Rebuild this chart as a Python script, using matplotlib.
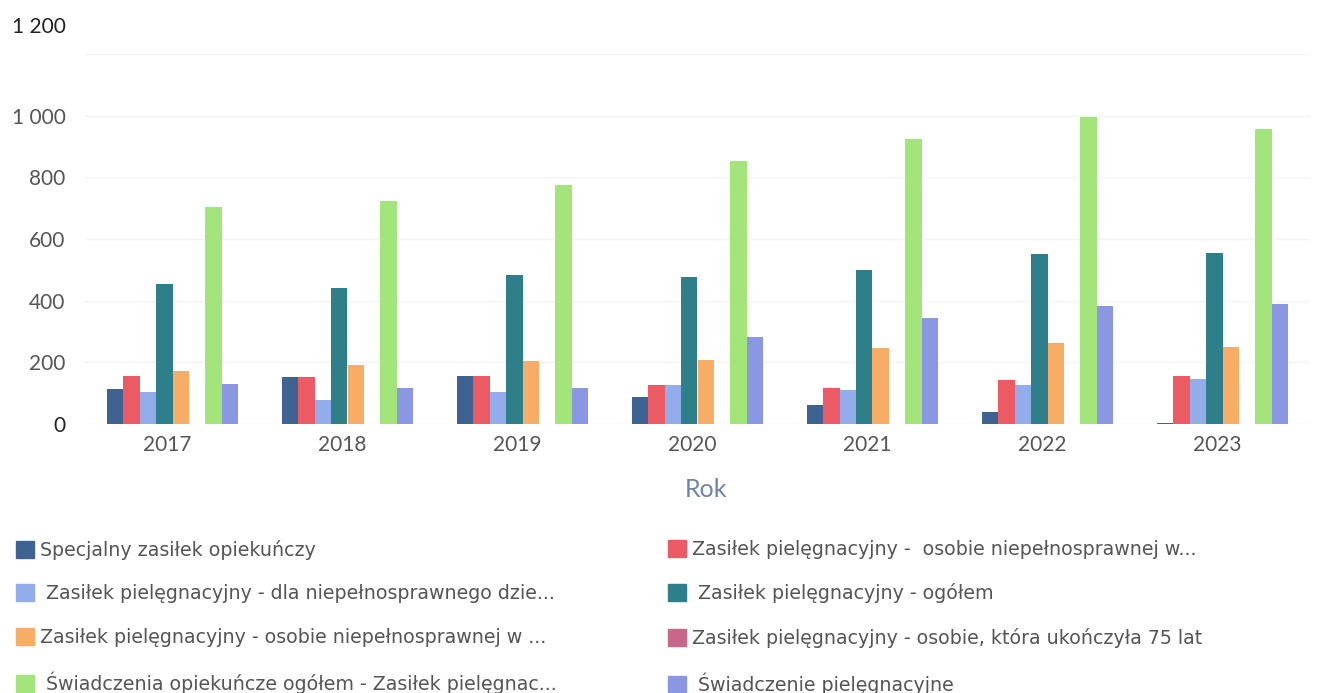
import matplotlib.pyplot as plt
import matplotlib.patches as mpatches
import matplotlib.ticker as mticker
import matplotlib.transforms as mtransforms
import numpy as np

plt.rcParams['font.family'] = ['Lato', 'DejaVu Sans']

years = ['2017', '2018', '2019', '2020', '2021', '2022', '2023']

series_names = [
    'Specjalny zasiłek opiekuńczy',
    'Zasiłek pielęgnacyjny -  osobie niepełnosprawnej w...',
    ' Zasiłek pielęgnacyjny - dla niepełnosprawnego dzie...',
    ' Zasiłek pielęgnacyjny - ogółem',
    'Zasiłek pielęgnacyjny - osobie niepełnosprawnej w ...',
    'Zasiłek pielęgnacyjny - osobie, która ukończyła 75 lat',
    ' Świadczenia opiekuńcze ogółem - Zasiłek pielęgnac...',
    ' Świadczenie pielęgnacyjne',
]

specjalny = [113, 153, 157, 88, 61, 39, 3]
osobie_niep_w = [156, 153, 157, 126, 118, 142, 156]
dla_dziecka = [105, 77, 104, 126, 111, 126, 146]
zp_ogolem = [453, 440, 482, 476, 501, 550, 553]
osobie_niep_w2 = [172, 192, 205, 207, 247, 262, 250]
osobie_75 = [0, 0, 0, 0, 0, 0, 0]
swiadczenia_ogolem = [704, 723, 775, 853, 925, 997, 958]
swiadczenie_piel = [129, 118, 118, 283, 345, 382, 388]

data = [specjalny, osobie_niep_w, dla_dziecka, zp_ogolem,
        osobie_niep_w2, osobie_75, swiadczenia_ogolem, swiadczenie_piel]

colors = ['#3f6390', '#ec5a64', '#93acea', '#2f7f8a',
          '#f7ad66', '#c7688a', '#a3e57a', '#8b97e3']

fig = plt.figure(figsize=(13.17, 6.93), dpi=100)
ax = fig.add_axes([85 / 1317, 1 - 424 / 693, (1310 - 85) / 1317, (424 - 54) / 693])

x = np.arange(len(years))
width = 0.094
n = len(data)
for i, (vals, c) in enumerate(zip(data, colors)):
    offs = (i - (n - 1) / 2) * width
    ax.bar(x + offs, vals, width, color=c, edgecolor='none')

ax.set_xlim(-0.5, len(years) - 0.5)
ax.set_ylim(0, 1200)
ax.set_yticks([0, 200, 400, 600, 800, 1000, 1200])
ax.yaxis.set_major_formatter(mticker.FuncFormatter(lambda v, p: f'{int(v):,}'.replace(',', ' ')))
ax.set_xticks(x - 0.03)
ax.set_xticklabels(years)
ax.tick_params(axis='both', length=0, labelsize=15, labelcolor='#555555')
ax.tick_params(axis='y', pad=14)
ax.tick_params(axis='x', pad=8)
ax.grid(axis='y', color='#f3f3f3', linewidth=1)
ax.set_axisbelow(True)
for s in ax.spines.values():
    s.set_visible(False)
ax.set_xlabel('Rok', fontsize=18, color='#6f82ad')
ax.xaxis.set_label_coords(0.507, -0.145)

# top label sits higher in the original, and 0 / 1 200 are darker
fig.canvas.draw()
ylabels = ax.get_yticklabels()
ylabels[0].set_color('#222222')
ylabels[-1].set_color('#222222')
ylabels[-1].set_transform(ylabels[-1].get_transform()
                          + mtransforms.ScaledTranslation(0, 0.29, fig.dpi_scale_trans))

handles = [mpatches.Patch(color=c) for c in colors]
left_idx = [0, 2, 4, 6]
right_idx = [1, 3, 5, 7]
common = dict(loc='upper left', frameon=False, prop={'family': ['DejaVu Sans'], 'size': 13.7},
              handlelength=0.95, handleheight=1.0, handletextpad=0.3, labelspacing=1.28,
              labelcolor='#555555', borderaxespad=0, borderpad=0)
leg1 = fig.legend([handles[i] for i in left_idx], [series_names[i] for i in left_idx],
                  bbox_to_anchor=(16 / 1317, 1 - 540 / 693), **common)
leg2 = fig.legend([handles[i] for i in right_idx], [series_names[i] for i in right_idx],
                  bbox_to_anchor=(668 / 1317, 1 - 540 / 693), **common)

fig.savefig('out.png', dpi=100)
